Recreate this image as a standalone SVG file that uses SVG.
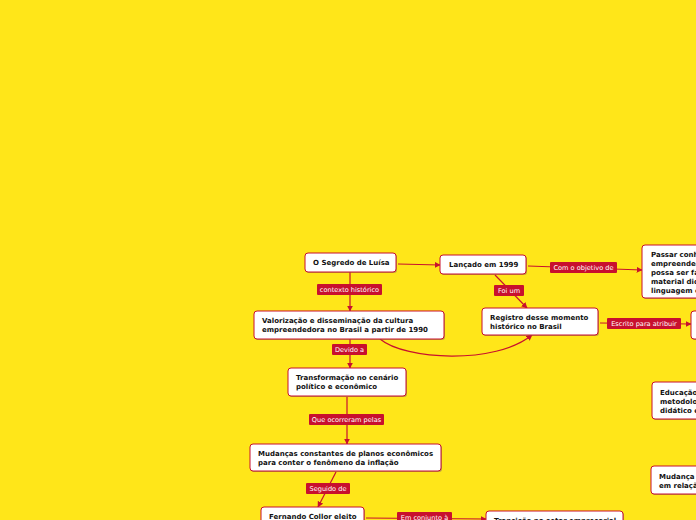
<svg xmlns="http://www.w3.org/2000/svg" width="696" height="520" viewBox="0 0 696 520">
<style>
.bg{fill:#FFE619}
.n rect.s{fill:#8a6d5a;opacity:.55}
.n rect.b{fill:#fff;stroke:#C8102E;stroke-width:1}
.n text{font-family:"DejaVu Sans",Verdana,sans-serif;font-weight:bold;font-size:7px;fill:#111}
.c path{fill:none;stroke:#C8102E;stroke-width:1.2}
.l rect{fill:#C8102E}
.l text{font-family:"DejaVu Sans",Verdana,sans-serif;font-size:6.6px;fill:#fff;text-anchor:middle}
</style>
<defs>
<marker id="a" viewBox="0 0 10 10" refX="9" refY="5" markerWidth="6" markerHeight="6" orient="auto" markerUnits="userSpaceOnUse">
<path d="M0,0 L10,5 L0,10 z" fill="#C8102E"/>
</marker>
</defs>
<rect class="bg" x="0" y="0" width="696" height="520"/>
<g class="c">
<path d="M398,264 L440,265" marker-end="url(#a)"/>
<path d="M350,272 L350,311" marker-end="url(#a)"/>
<path d="M528,266 L642,270" marker-end="url(#a)"/>
<path d="M495,275 L527,308" marker-end="url(#a)"/>
<path d="M600,323 L691,324" marker-end="url(#a)"/>
<path d="M380,339 C405,360 495,365 532,335" marker-end="url(#a)"/>
<path d="M350,339 L350,368" marker-end="url(#a)"/>
<path d="M347,397 L347,444" marker-end="url(#a)"/>
<path d="M336,472 L318,507" marker-end="url(#a)"/>
<path d="M366,518 L486,519" marker-end="url(#a)"/>
</g>
<g class="l">
<g><rect x="317" y="284" width="65" height="11" rx="1"/><text x="349.5" y="292">contexto histórico</text></g>
<g><rect x="332" y="344" width="35" height="11" rx="1"/><text x="349.5" y="352">Devido a</text></g>
<g><rect x="309" y="414" width="75" height="11" rx="1"/><text x="346.5" y="422">Que ocorreram pelas</text></g>
<g><rect x="306" y="483" width="44" height="11" rx="1"/><text x="328" y="491">Seguido de</text></g>
<g><rect x="397" y="512" width="55" height="11" rx="1"/><text x="424.5" y="520">Em conjunto à</text></g>
<g><rect x="550" y="262" width="67" height="11" rx="1"/><text x="583.5" y="270">Com o objetivo de</text></g>
<g><rect x="494" y="285" width="30" height="11" rx="1"/><text x="509" y="293">Foi um</text></g>
<g><rect x="607" y="318" width="74" height="11" rx="1"/><text x="644" y="326">Escrito para atribuir</text></g>
</g>
<g id="n-segredo" class="n"><rect class="s" x="306" y="254" width="91" height="19" rx="3"/><rect class="b" x="305" y="253" width="91" height="19" rx="3"/><text x="313" y="265">O Segredo de Luísa</text></g>
<g id="n-lancado" class="n"><rect class="s" x="441" y="256" width="86" height="19" rx="3"/><rect class="b" x="440" y="255" width="86" height="19" rx="3"/><text x="449" y="267">Lançado em 1999</text></g>
<g id="n-passar" class="n"><rect class="s" x="643" y="246" width="70" height="53" rx="3"/><rect class="b" x="642" y="245" width="70" height="53" rx="3"/><text x="651" y="257">Passar conhecimento</text><text x="651" y="266">empreendedor que</text><text x="651" y="275">possa ser fácil</text><text x="651" y="284">material didático</text><text x="651" y="293">linguagem e</text></g>
<g id="n-registro" class="n"><rect class="s" x="483" y="309" width="116" height="27" rx="3"/><rect class="b" x="482" y="308" width="116" height="27" rx="3"/><text x="490" y="320">Registro desse momento</text><text x="490" y="329">histórico no Brasil</text></g>
<g id="n-direita" class="n"><rect class="s" x="692" y="312" width="20" height="28" rx="3"/><rect class="b" x="691" y="311" width="20" height="28" rx="3"/></g>
<g id="n-valorizacao" class="n"><rect class="s" x="255" y="312" width="190" height="28" rx="3"/><rect class="b" x="254" y="311" width="190" height="28" rx="3"/><text x="262" y="323">Valorização e disseminação da cultura</text><text x="262" y="332">empreendedora no Brasil a partir de 1990</text></g>
<g id="n-transformacao" class="n"><rect class="s" x="289" y="369" width="118" height="28" rx="3"/><rect class="b" x="288" y="368" width="118" height="28" rx="3"/><text x="296" y="380">Transformação no cenário</text><text x="296" y="389">político e econômico</text></g>
<g id="n-mudancas" class="n"><rect class="s" x="251" y="445" width="191" height="27" rx="3"/><rect class="b" x="250" y="444" width="191" height="27" rx="3"/><text x="258" y="456">Mudanças constantes de planos econômicos</text><text x="258" y="465">para conter o fenômeno da inflação</text></g>
<g id="n-collor" class="n"><rect class="s" x="262" y="508" width="103" height="20" rx="3"/><rect class="b" x="261" y="507" width="103" height="20" rx="3"/><text x="269" y="519">Fernando Collor eleito</text></g>
<g id="n-transicao" class="n"><rect class="s" x="487" y="512" width="137" height="20" rx="3"/><rect class="b" x="486" y="511" width="137" height="20" rx="3"/><text x="494" y="523">Transição no setor empresarial</text></g>
<g id="n-educacao" class="n"><rect class="s" x="653" y="383" width="60" height="37" rx="3"/><rect class="b" x="652" y="382" width="60" height="37" rx="3"/><text x="660" y="395">Educação</text><text x="660" y="404">metodologia</text><text x="660" y="413">didático e</text></g>
<g id="n-mudanca2" class="n"><rect class="s" x="652" y="467" width="60" height="28" rx="3"/><rect class="b" x="651" y="466" width="60" height="28" rx="3"/><text x="659" y="479">Mudança</text><text x="659" y="488">em relação</text></g>
</svg>
